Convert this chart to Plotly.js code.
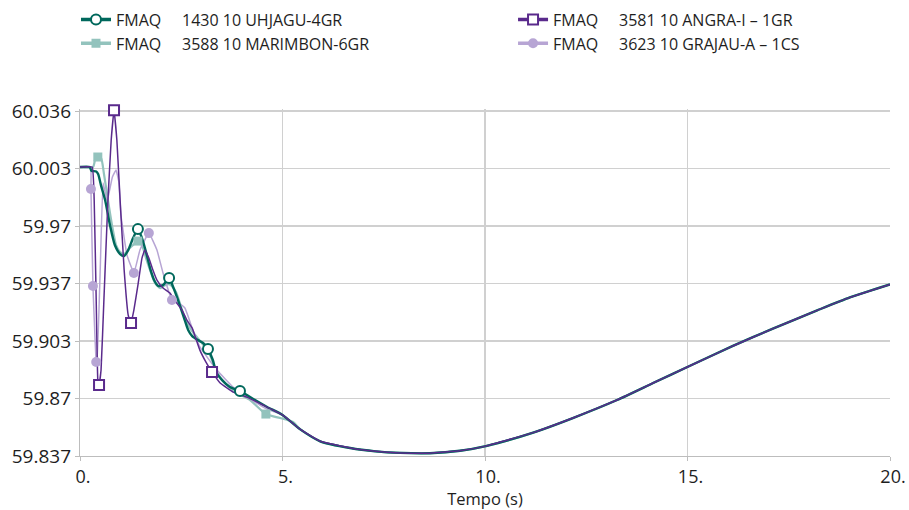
<!DOCTYPE html>
<html>
<head>
<meta charset="utf-8">
<script src="https://cdn.plot.ly/plotly-3.0.1.min.js"></script>
<style>html,body{margin:0;padding:0;background:#fff;}#chart{width:909px;height:510px;}</style>
</head>
<body>
<div id="chart"></div>
<script>
// ---- Data (time in s, frequency in Hz) ----
const seriesNames = [
  "FMAQ\u00A0\u00A0\u00A0\u00A0\u00A01430 10 UHJAGU-4GR",
  "FMAQ\u00A0\u00A0\u00A0\u00A0\u00A03588 10 MARIMBON-6GR",
  "FMAQ\u00A0\u00A0\u00A0\u00A0\u00A03581 10 ANGRA-I \u2013 1GR",
  "FMAQ\u00A0\u00A0\u00A0\u00A0\u00A03623 10 GRAJAU-A \u2013 1CS"
];

// common slow recovery (all four curves coincide here)
const tailT = [5.0, 5.43, 5.93, 6.67, 7.3, 7.9, 8.64, 9.38, 10.02, 11.19, 12.17, 13.26, 14.15, 15.01, 16.12, 17.11, 18.20, 19.01, 20.0];
const tailV = [59.8607, 59.8525, 59.8455, 59.8416, 59.8397, 59.8388, 59.8386, 59.8400, 59.8427, 59.8505, 59.8589, 59.8693, 59.8791, 59.8885, 59.9005, 59.9105, 59.9210, 59.9285, 59.9360];

// early transient of each machine
const uhjaguT = [0, 0.24, 0.28, 0.40, 0.45, 0.52, 0.62, 0.74, 0.86, 0.99, 1.09, 1.19, 1.31, 1.43, 1.53, 1.63, 1.73, 1.83, 1.93, 2.05, 2.20, 2.30, 2.42, 2.57, 2.67, 2.77, 2.91, 3.04, 3.16, 3.28, 3.36, 3.51, 3.70, 3.95, 4.20, 4.62];
const uhjaguV = [60.0037, 60.0037, 60.0016, 60.0012, 59.9995, 59.9930, 59.9847, 59.9702, 59.9587, 59.9535, 59.9524, 59.9558, 59.9627, 59.9679, 59.9627, 59.9547, 59.9454, 59.9385, 59.9351, 59.9356, 59.9397, 59.9345, 59.9270, 59.9166, 59.9097, 59.9062, 59.9039, 59.9022, 59.8987, 59.8924, 59.8855, 59.8808, 59.8768, 59.8745, 59.8710, 59.8653];

const marimbonT = [0, 0.32, 0.38, 0.44, 0.52, 0.59, 0.69, 0.79, 0.89, 0.99, 1.09, 1.23, 1.43, 1.53, 1.63, 1.73, 1.85, 1.98, 2.10, 2.22, 2.37, 2.52, 2.67, 2.84, 3.01, 3.21, 3.33, 3.51, 3.83, 4.20, 4.59, 4.94, 5.26];
const marimbonV = [60.0037, 60.0037, 60.0085, 60.0095, 60.0089, 60.0000, 59.9847, 59.9702, 59.9587, 59.9547, 59.9535, 59.9570, 59.9610, 59.9587, 59.9512, 59.9443, 59.9368, 59.9339, 59.9356, 59.9360, 59.9316, 59.9212, 59.9126, 59.9068, 59.9022, 59.8953, 59.8878, 59.8808, 59.8739, 59.8693, 59.8612, 59.8589, 59.8566];

const angraT = [0, 0.30, 0.35, 0.40, 0.44, 0.47, 0.52, 0.59, 0.69, 0.77, 0.84, 0.91, 0.99, 1.09, 1.19, 1.26, 1.33, 1.43, 1.53, 1.60, 1.70, 1.80, 1.90, 2.05, 2.22, 2.37, 2.52, 2.64, 2.77, 2.96, 3.11, 3.26, 3.46, 3.78, 4.12, 4.52];
const angraV = [60.0037, 60.0037, 59.9847, 59.9270, 59.8808, 59.8780, 59.8866, 59.9270, 59.9847, 60.0193, 60.0365, 60.0193, 59.9847, 59.9443, 59.9183, 59.9137, 59.9212, 59.9356, 59.9512, 59.9558, 59.9512, 59.9443, 59.9385, 59.9339, 59.9310, 59.9258, 59.9212, 59.9154, 59.9108, 59.8981, 59.8912, 59.8855, 59.8791, 59.8739, 59.8710, 59.8664];

const grajauT = [0, 0.26, 0.27, 0.32, 0.40, 0.42, 0.50, 0.57, 0.67, 0.80, 0.89, 0.96, 1.01, 1.16, 1.33, 1.48, 1.70, 1.90, 2.05, 2.27, 2.42, 2.59, 2.77, 2.96, 3.38, 3.78, 4.20, 4.62];
const grajauV = [60.0037, 60.0037, 59.9910, 59.9351, 59.8912, 59.8895, 59.9450, 59.9945, 59.9840, 59.9980, 60.0020, 59.9950, 59.9760, 59.9530, 59.9426, 59.9558, 59.9656, 59.9558, 59.9426, 59.9270, 59.9253, 59.9224, 59.9108, 59.8999, 59.8866, 59.8768, 59.8700, 59.8640];

// plot markers seen on each curve
const uhjaguMkT = [1.43, 2.20, 3.16, 3.95];
const uhjaguMkV = [59.9679, 59.9397, 59.8987, 59.8745];
const marimbonMkT = [0.44, 1.43, 4.59];
const marimbonMkV = [60.0095, 59.9610, 59.8612];
const angraMkT = [0.47, 0.84, 1.26, 3.26];
const angraMkV = [59.8780, 60.0365, 59.9137, 59.8855];
const grajauMkT = [0.27, 0.32, 0.40, 1.33, 1.70, 2.27];
const grajauMkV = [59.9910, 59.9351, 59.8912, 59.9426, 59.9656, 59.9270];

const xTickVals = [0, 5, 10, 15, 20];
const xTickText = ["0.", "5.", "10.", "15.", "20."];
const yTickVals = [59.837, 59.8702, 59.9033, 59.9365, 59.9697, 60.0028, 60.036];
const yTickText = ["59.837", "59.87", "59.903", "59.937", "59.97", "60.003", "60.036"];

// ---- build traces ----
function withTail(t, v) {
  const last = t[t.length - 1];
  const tt = t.slice(), vv = v.slice();
  for (let i = 0; i < tailT.length; i++) {
    if (tailT[i] > last) { tt.push(tailT[i]); vv.push(tailV[i]); }
  }
  return [tt, vv];
}

const styles = [
  {color: '#00685c', width: 2.4, symbol: 'circle', fill: '#ffffff', size: 10, lw: 2, smooth: 0.6},
  {color: '#93c3bd', width: 2.2, symbol: 'square', fill: '#93c3bd', size: 9, lw: 0, smooth: 0.6},
  {color: '#5a2a8c', width: 1.5, symbol: 'square', fill: '#ffffff', size: 10, lw: 2, smooth: 0.3},
  {color: '#b7a5d4', width: 1.5, symbol: 'circle', fill: '#b7a5d4', size: 10, lw: 0, smooth: 0.3}
];
const lineData = [
  withTail(uhjaguT, uhjaguV),
  withTail(marimbonT, marimbonV),
  withTail(angraT, angraV),
  withTail(grajauT, grajauV)
];
const markData = [
  [uhjaguMkT, uhjaguMkV],
  [marimbonMkT, marimbonMkV],
  [angraMkT, angraMkV],
  [grajauMkT, grajauMkV]
];
const legendOf = ['legend', 'legend', 'legend2', 'legend2'];
const drawOrder = [1, 3, 0, 2];

const traces = [];
drawOrder.forEach(i => {
  const s = styles[i];
  traces.push({
    type: 'scatter', mode: 'lines', x: lineData[i][0], y: lineData[i][1],
    line: {color: s.color, width: s.width, shape: 'spline', smoothing: s.smooth},
    showlegend: false, hoverinfo: 'skip'
  });
});
drawOrder.forEach(i => {
  const s = styles[i];
  traces.push({
    type: 'scatter', mode: 'markers', x: markData[i][0], y: markData[i][1],
    marker: {symbol: s.symbol, size: s.size, color: s.fill, line: {color: s.color, width: s.lw}},
    cliponaxis: false, showlegend: false, hoverinfo: 'skip'
  });
});
[0, 1, 2, 3].forEach(i => {
  const s = styles[i];
  traces.push({
    type: 'scatter', mode: 'lines+markers', x: [null], y: [null], name: seriesNames[i],
    line: {color: s.color, width: 3.5},
    marker: {symbol: s.symbol, size: s.size, color: s.fill, line: {color: s.color, width: s.lw}},
    legend: legendOf[i], showlegend: true
  });
});

const legendFont = {family: 'Open Sans, sans-serif', size: 16, color: '#1e1e1e'};
const axisFont = {family: 'Open Sans, sans-serif', size: 19, color: '#1e1e1e'};
const layout = {
  width: 909, height: 510,
  margin: {l: 80, r: 19, t: 109, b: 54, autoexpand: false},
  paper_bgcolor: '#ffffff', plot_bgcolor: '#ffffff',
  font: {family: 'Open Sans, sans-serif', color: '#1e1e1e'},
  showlegend: true,
  legend: {
    orientation: 'v', xref: 'container', yref: 'container', x: 0.0836, y: 0.995,
    xanchor: 'left', yanchor: 'top', font: legendFont,
    traceorder: 'normal', bgcolor: 'rgba(0,0,0,0)', tracegroupgap: 0
  },
  legend2: {
    orientation: 'v', xref: 'container', yref: 'container', x: 0.5644, y: 0.995,
    xanchor: 'left', yanchor: 'top', font: legendFont,
    traceorder: 'normal', bgcolor: 'rgba(0,0,0,0)', tracegroupgap: 0
  },
  xaxis: {
    range: [0, 20], tickmode: 'array', tickvals: xTickVals, ticktext: xTickText,
    showgrid: true, gridcolor: '#d0d0d0', gridwidth: 1.2, zeroline: false,
    showline: true, linecolor: '#bdbdbd', linewidth: 1.2,
    ticks: 'outside', ticklen: 4, tickcolor: '#bdbdbd',
    tickfont: {family: 'Open Sans, sans-serif', size: 18, color: '#1e1e1e'},
    ticklabelshift: 3, automargin: false,
    title: {text: 'Tempo (s)', font: {family: 'Open Sans, sans-serif', size: 16.5, color: '#1e1e1e'}, standoff: 10}
  },
  yaxis: {
    range: [59.837, 60.0372], tickmode: 'array', tickvals: yTickVals, ticktext: yTickText,
    showgrid: true, gridcolor: '#d0d0d0', gridwidth: 1.2, zeroline: false,
    showline: true, linecolor: '#bdbdbd', linewidth: 1.2, automargin: false,
    ticks: 'outside', ticklen: 4, tickcolor: '#bdbdbd', tickfont: axisFont
  }
};

Plotly.newPlot('chart', traces, layout, {displayModeBar: false, staticPlot: true});
</script>
</body>
</html>
